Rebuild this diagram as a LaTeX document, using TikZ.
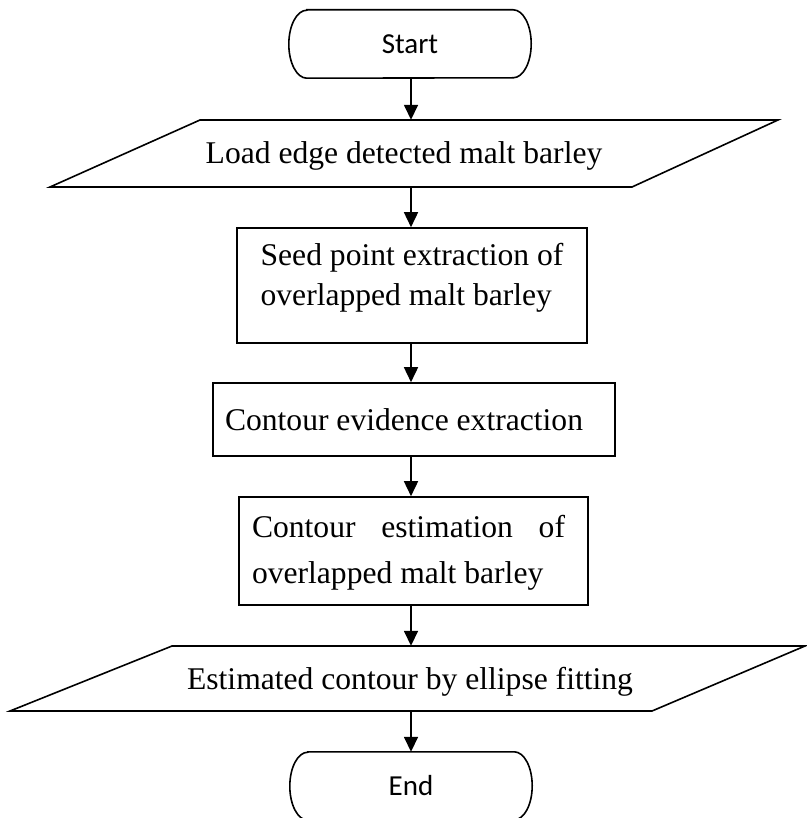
\documentclass[tikz,border=0pt]{standalone}
\usepackage{fontspec}
\setmainfont{Liberation Serif}
\newfontfamily\termfont{Carlito}
\usetikzlibrary{arrows.meta}
\newcommand{\drawterm}[1]{%
  \draw[outline] ([xshift=18pt]#1.north west) -- ([xshift=-18pt]#1.north east)
    arc[start angle=90,end angle=-90,x radius=18pt,y radius=34pt]
    -- ([xshift=18pt]#1.south west)
    arc[start angle=270,end angle=90,x radius=18pt,y radius=34pt] -- cycle;}
\begin{document}
\begin{tikzpicture}[x=1pt,y=1pt,
  outline/.style={draw=black, line width=1.6pt},
  procbox/.style={outline, inner sep=0pt, font=\fontsize{31.6}{40}\selectfont},
  iobox/.style={draw=none, inner sep=0pt, font=\fontsize{31.6}{40}\selectfont, text height=21pt, text depth=0pt},
  termbox/.style={draw=none, inner sep=0pt, minimum width=242pt, minimum height=68pt, font=\termfont\fontsize{29}{34}\selectfont, text height=19pt, text depth=0pt},
  arr/.style={line width=1.6pt, -{Triangle[length=15pt,width=14pt]}}]
\useasboundingbox (0,0) rectangle (806,-818);
\coordinate (col) at (411,0);

\node[termbox] (start) at (410,-44) {Start};
\drawterm{start}

\node[iobox, minimum height=67pt] (load) at (404,-153.5) {Load edge detected malt barley};
\draw[outline] (200,-120) -- (778,-120) -- (632,-187) -- (50,-187) -- cycle;

\node[procbox, minimum width=350pt, text height=77pt, text depth=38pt] (seed) at (412,-285.5)
  {\vbox{\hbox{Seed point extraction of}\hbox{overlapped malt barley}}};

\node[procbox, minimum width=402pt, minimum height=73pt, text height=21pt, text depth=0pt] (evid) at (414,-419.5)
  {Contour evidence extraction\hspace*{20pt}};

\node[procbox, minimum width=349pt, text height=86pt, text depth=22pt] (estim) at (413.5,-551)
  {\vbox{\baselineskip=46pt\hbox to 313pt{Contour\hfill estimation\hfill of}\hbox{overlapped malt barley}}\hspace*{10pt}};

\node[iobox, minimum height=65pt] (fitting) at (410,-678.5) {Estimated contour by ellipse fitting};
\draw[outline] (172,-646) -- (805,-646) -- (652,-711) -- (10,-711) -- cycle;

\node[termbox] (finish) at (411,-786) {End};
\drawterm{finish}

\draw[arr] (start.south -| col) -- (load.north -| col);
\draw[arr] (load.south -| col) -- (seed.north -| col);
\draw[arr] (seed.south -| col) -- (evid.north -| col);
\draw[arr] (evid.south -| col) -- (estim.north -| col);
\draw[arr] (estim.south -| col) -- (fitting.north -| col);
\draw[arr] (fitting.south -| col) -- (finish.north -| col);
\end{tikzpicture}
\end{document}
